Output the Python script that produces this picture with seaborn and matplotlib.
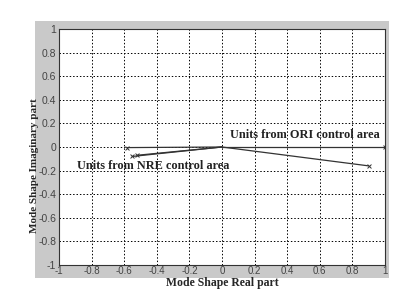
import pandas as pd
import matplotlib.pyplot as plt
import matplotlib.patches as mpatches
import seaborn as sns

# mode shape vectors (real, imaginary) drawn from the origin
unit_names = ["ORI-1", "ORI-2", "NRE-1", "NRE-2", "NRE-3"]
real_part = [1.0, 0.90, -0.58, -0.55, -0.52]
imag_part = [0.0, -0.16, -0.005, -0.08, -0.07]

ticks = [-1, -0.8, -0.6, -0.4, -0.2, 0, 0.2, 0.4, 0.6, 0.8, 1]
tick_labels = ["-1", "-0.8", "-0.6", "-0.4", "-0.2", "0", "0.2", "0.4", "0.6", "0.8", "1"]

rows = []
for name, re, im in zip(unit_names, real_part, imag_part):
    rows.append({"unit": name, "re": 0.0, "im": 0.0})
    rows.append({"unit": name, "re": re, "im": im})
df = pd.DataFrame(rows)
tips = pd.DataFrame({"unit": unit_names, "re": real_part, "im": imag_part})

sns.set_style("white")
fig = plt.figure(figsize=(4.12, 3.08), dpi=100)
fig.patch.set_facecolor("white")
bg = mpatches.Rectangle((35 / 412, 1 - 278 / 308), 354 / 412, 257 / 308,
                        transform=fig.transFigure, facecolor="#c9c9c9",
                        edgecolor="none", zorder=-10)
fig.add_artist(bg)
ax = fig.add_axes([59 / 412, 1 - 265 / 308, 326 / 412, 236 / 308])
ax.set_facecolor("white")

sns.lineplot(data=df, x="re", y="im", units="unit", estimator=None, sort=False,
             color="#333333", linewidth=0.9, ax=ax)
sns.scatterplot(data=tips, x="re", y="im", marker="x", color="#333333", s=8,
                linewidth=0.7, ax=ax)

ax.set_xlim(-1, 1)
ax.set_ylim(-1, 1)
ax.set_xticks(ticks)
ax.set_yticks(ticks)
ax.set_xticklabels(tick_labels, fontsize=7, family="Liberation Sans", color="#444444")
ax.set_yticklabels(tick_labels, fontsize=7.5, family="Liberation Sans", color="#444444")
ax.tick_params(direction="in", length=2.5, width=0.6, pad=2)
ax.tick_params(axis="x", pad=1)
ax.grid(True, linestyle=(0, (1.5, 2)), color="black", linewidth=0.7)
for s in ax.spines.values():
    s.set_color("#333333")
    s.set_linewidth(0.8)

ax.set_xlabel("Mode Shape Real part", family="Liberation Serif", fontweight="bold",
              fontsize=8.5)
ax.set_ylabel("Mode Shape Imaginary part", family="Liberation Serif", fontweight="bold",
              fontsize=8)
ax.xaxis.set_label_coords(0.5, -0.05)
ax.yaxis.set_label_coords(-0.062, 0.42)

ax.text(0.05, 0.1, "Units from ORI control area", family="Liberation Serif",
        fontweight="bold", fontsize=8.8, color="#222222", ha="left", va="center")
ax.text(-0.89, -0.16, "Units from NRE control area", family="Liberation Serif",
        fontweight="bold", fontsize=8.8, color="#222222", ha="left", va="center")

fig.savefig("out.png", dpi=100)
